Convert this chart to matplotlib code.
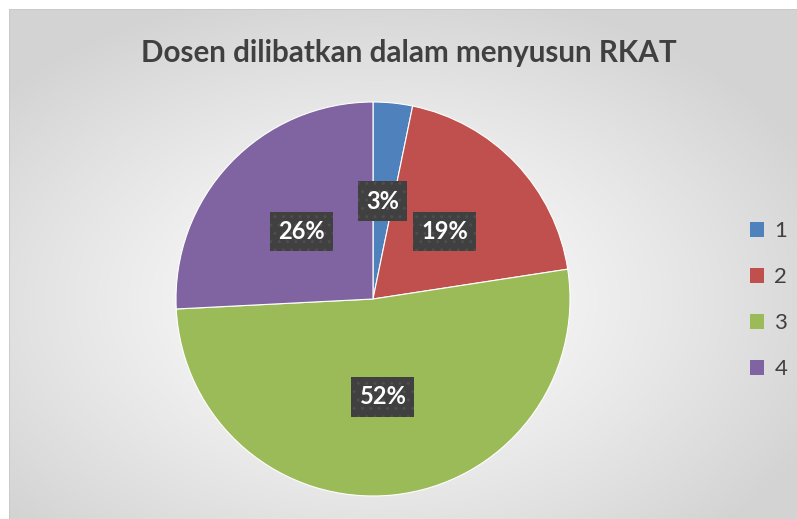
import numpy as np
import matplotlib
matplotlib.use('Agg')
import matplotlib.pyplot as plt

# data
categories = ['1', '2', '3', '4']
counts = [1, 6, 16, 8]
colors = ['#4F81BD', '#C0504D', '#9BBB59', '#8064A2']
title = 'Dosen dilibatkan dalam menyusun RKAT'

W, H = 797, 519
fig = plt.figure(figsize=(W / 100, H / 100), dpi=100)
fig.patch.set_facecolor('white')

# radial gradient background (chart area)
bg = fig.add_axes([9 / W, 0, (W - 9) / W, (H - 9) / H])
bg.set_axis_off()
yy, xx = np.mgrid[0:200, 0:300]
cx, cy = 300 * (373 - 9) / (W - 9), 200 * (299 - 9) / (H - 9)
r = np.sqrt(((xx - cx) / 300) ** 2 + ((yy - cy) / 200) ** 2) / 0.62
r = np.clip(r, 0, 1)
shade = 1.0 - 0.17 * r ** 1.2
bg.imshow(np.dstack([shade, shade, shade]), aspect='auto', extent=[0, 1, 0, 1])
bg.set_xlim(0, 1)
bg.set_ylim(0, 1)
bg.plot([0, 1], [1, 1], color='#c8c8c8', lw=1.2)
bg.plot([0, 0], [0, 1], color='#c8c8c8', lw=1.2)

# pie
ax = fig.add_axes([176 / W, (H - 496) / H, 394 / W, 394 / H])
wedges, texts, autotexts = ax.pie(
    counts, colors=colors, startangle=90, counterclock=False,
    autopct=lambda p: '%d%%' % round(p), pctdistance=0.5,
    wedgeprops=dict(edgecolor='white', linewidth=0.8))
ax.set_xlim(-1, 1)
ax.set_ylim(-1, 1)
ax.set_aspect('equal')

for t in autotexts:
    t.set_color('white')
    t.set_fontsize(17)
    t.set_fontweight('bold')
    t.set_family('Lato')
    t.set_bbox(dict(boxstyle='square,pad=0.34', facecolor='#404040',
                    edgecolor='#4e4e4e', linewidth=0, hatch='..'))

fig.text(409 / W, 1 - 53 / H, title, ha='center', va='center',
         fontsize=21.3, fontweight='bold', color='#404040', family='Lato')

leg = fig.legend(wedges, categories, loc='center left',
                 bbox_to_anchor=(730 / W, 1 - 300 / H), frameon=False,
                 prop={'family': 'Lato', 'size': 16}, labelcolor='#404040',
                 handlelength=0.65, handleheight=0.65, handletextpad=0.45,
                 labelspacing=1.17)
for h in leg.legend_handles:
    h.set_edgecolor('none')

fig.savefig('out.png', dpi=100)
